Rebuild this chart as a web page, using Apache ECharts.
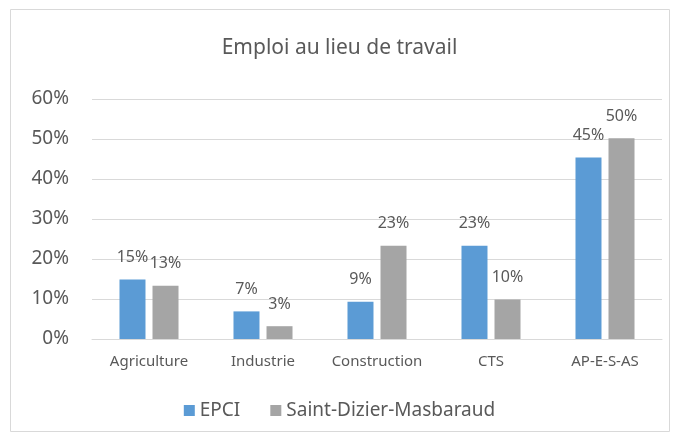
<!DOCTYPE html>
<html>
<head>
<meta charset="utf-8">
<script src="https://cdn.jsdelivr.net/npm/echarts@6/dist/echarts.min.js"></script>
<style>
  html, body { margin: 0; padding: 0; background: #fff; }
  #chart { width: 679px; height: 443px; }
</style>
</head>
<body>
<div id="chart"></div>
<script>
  // secteurs
  var categories = ['Agriculture', 'Industrie', 'Construction', 'CTS', 'AP-E-S-AS']
  // parts en %
  var epci = [14.9, 6.9, 9.3, 23.3, 45.4]
  var saintDizier = [13.3, 3.2, 23.3, 9.9, 50.2]
  var yTicks = [0, 10, 20, 30, 40, 50, 60]

  var txt = '#595959'
  var font = '"Noto Sans", "Open Sans", sans-serif'

  var myChart = echarts.init(document.getElementById('chart'))
  var option = {
    textStyle: { fontFamily: font },
    graphic: [{
      type: 'rect',
      shape: { x: 10.5, y: 9.5, width: 659, height: 422 },
      style: { fill: 'none', stroke: '#d9d9d9', lineWidth: 1 },
      silent: true
    }],
    title: {
      text: 'Emploi au lieu de travail',
      left: 'center',
      top: 33,
      textStyle: { color: txt, fontSize: 21, fontWeight: 'normal', fontFamily: font }
    },
    legend: {
      bottom: 18,
      left: 'center',
      itemWidth: 11,
      itemHeight: 11,
      itemGap: 30,
      textStyle: { color: txt, fontSize: 19, fontFamily: font },
      data: [
        { name: 'EPCI', icon: 'rect' },
        { name: 'Saint-Dizier-Masbaraud', icon: 'rect' }
      ]
    },
    grid: { left: 92, right: 17, top: 99, bottom: 104, containLabel: false },
    xAxis: {
      type: 'category',
      data: categories,
      axisTick: { show: false },
      axisLine: { lineStyle: { color: '#d9d9d9', width: 1 } },
      axisLabel: { color: txt, fontSize: 15, margin: 15, interval: 0, fontFamily: font }
    },
    yAxis: {
      type: 'value',
      min: yTicks[0],
      max: yTicks[yTicks.length - 1],
      interval: 10,
      axisLine: { show: false },
      axisTick: { show: false },
      splitLine: { lineStyle: { color: '#d9d9d9', width: 1 } },
      axisLabel: { color: txt, fontSize: 19, margin: 23, formatter: '{value}%', fontFamily: font }
    },
    series: [
      {
        name: 'EPCI',
        type: 'bar',
        data: epci,
        barWidth: 26,
        barGap: '27%',
        itemStyle: { color: '#5b9bd5' },
        label: {
          show: true, position: 'top', distance: 14,
          color: txt, fontSize: 16, fontFamily: font,
          formatter: function (p) { return Math.round(p.value) + '%' }
        }
      },
      {
        name: 'Saint-Dizier-Masbaraud',
        type: 'bar',
        data: saintDizier,
        barWidth: 26,
        itemStyle: { color: '#a5a5a5' },
        label: {
          show: true, position: 'top', distance: 14,
          color: txt, fontSize: 16, fontFamily: font,
          formatter: function (p) { return Math.round(p.value) + '%' }
        }
      }
    ]
  }
  myChart.setOption(option)
</script>
</body>
</html>
